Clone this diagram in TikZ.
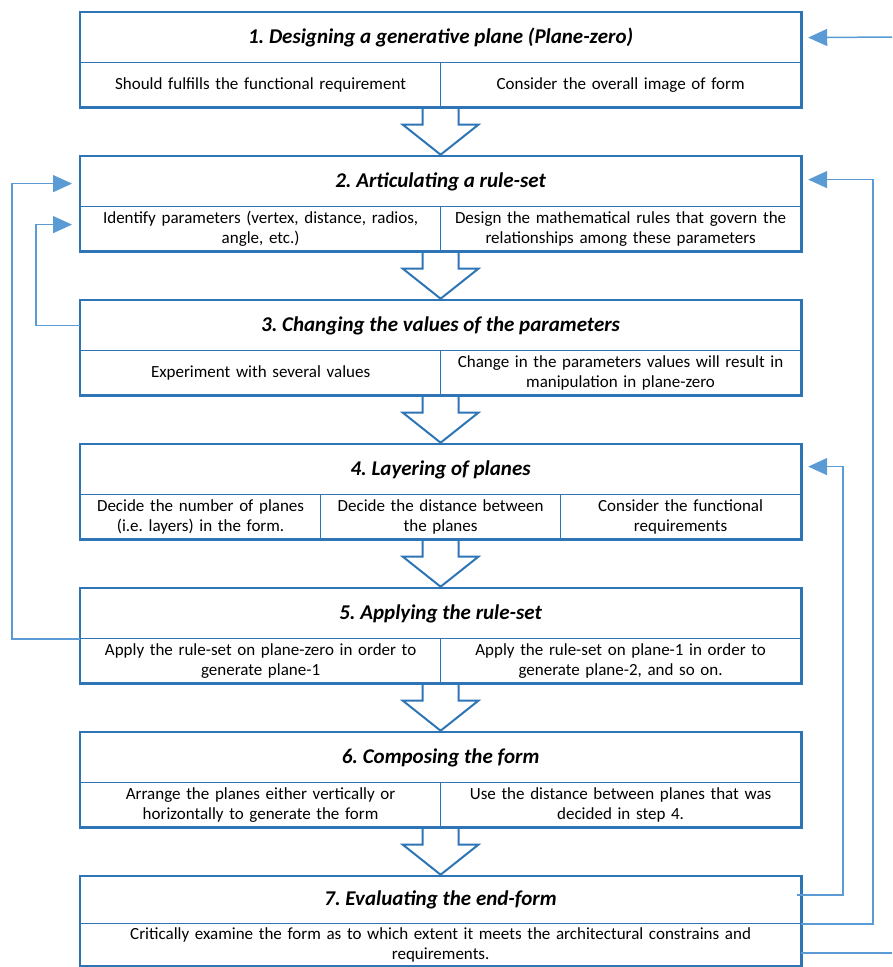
\documentclass[tikz,border=0pt]{standalone}
\usepackage{fontspec}
\setmainfont{Carlito}
\frenchspacing
\usetikzlibrary{arrows.meta,calc,fit,backgrounds}
\definecolor{boxblue}{HTML}{2E75B6}
\definecolor{lineblue}{HTML}{5B9BD5}
\newcommand{\bigdownarrow}[2]{%
  \draw[blk] ($(#1.south)+(-18,0)$) -- ++(0,16) -- ++(-20,0) -- (#2.north)
    -- ($(#1.south)+(38,16)$) -- ++(-20,0) -- ++(0,-16);}
\begin{document}
\begin{tikzpicture}[x=1pt,y=-1pt,
  hdr/.style={draw=boxblue, line width=1.2pt, minimum width=720pt, minimum height=50pt,
    inner sep=0pt, font=\fontsize{21}{24}\selectfont\bfseries\itshape, anchor=north west},
  cellbase/.style={draw=boxblue, line width=1.2pt, minimum height=44pt, inner ysep=0pt,
    inner xsep=4pt, align=center, font=\fontsize{17}{20}\selectfont, anchor=north west},
  cellhalf/.style={cellbase, text width=352pt},
  cellthird/.style={cellbase, text width=232pt},
  cellfull/.style={cellbase, text width=712pt, minimum height=42pt},
  outerbox/.style={draw=boxblue, line width=2.6pt, inner sep=0pt},
  blk/.style={draw=boxblue, line width=2pt, fill=white, line join=miter},
  conn/.style={draw=lineblue, line width=1.5pt, -{Triangle[length=19pt,width=17pt]}},
  plain/.style={draw=lineblue, line width=1.5pt}
]
\useasboundingbox (0,0) rectangle (892,967);

% Box 1
\node[hdr] (h1) at (80,12) {1. Designing a generative plane (Plane-zero)};
\node[cellhalf] (c1a) at (80,62) {Should fulfills the functional requirement};
\node[cellhalf] (c1b) at (440,62) {Consider the overall image of form};
\node[outerbox, fit=(h1)(c1a)(c1b)] (box1) {};

% Box 2
\node[hdr] (h2) at (80,156) {2. Articulating a rule-set};
\node[cellhalf] (c2a) at (80,206) {Identify parameters (vertex, distance, radios,\\ angle, etc.)};
\node[cellhalf] (c2b) at (440,206) {Design the mathematical rules that govern the\\ relationships among these parameters};
\node[outerbox, fit=(h2)(c2a)(c2b)] (box2) {};

% Box 3
\node[hdr] (h3) at (80,300) {3. Changing the values of the parameters};
\node[cellhalf] (c3a) at (80,350) {Experiment with several values};
\node[cellhalf] (c3b) at (440,350) {Change in the parameters values will result in\\ manipulation in plane-zero};
\node[outerbox, fit=(h3)(c3a)(c3b)] (box3) {};

% Box 4
\node[hdr] (h4) at (80,444) {4. Layering of planes};
\node[cellthird] (c4a) at (80,494) {Decide the number of planes\\ (i.e. layers) in the form.};
\node[cellthird] (c4b) at (320,494) {Decide the distance between\\ the planes};
\node[cellthird] (c4c) at (560,494) {Consider the functional\\ requirements};
\node[outerbox, fit=(h4)(c4a)(c4c)] (box4) {};

% Box 5
\node[hdr] (h5) at (80,588) {5. Applying the rule-set};
\node[cellhalf] (c5a) at (80,638) {Apply the rule-set on plane-zero in order to\\ generate plane-1};
\node[cellhalf] (c5b) at (440,638) {Apply the rule-set on plane-1 in order to\\ generate plane-2, and so on.};
\node[outerbox, fit=(h5)(c5a)(c5b)] (box5) {};

% Box 6
\node[hdr] (h6) at (80,732) {6. Composing the form};
\node[cellhalf] (c6a) at (80,782) {Arrange the planes either vertically or\\ horizontally to generate the form};
\node[cellhalf] (c6b) at (440,782) {Use the distance between planes that was\\ decided in step 4.};
\node[outerbox, fit=(h6)(c6a)(c6b)] (box6) {};

% Box 7
\node[hdr, minimum height=47pt] (h7) at (80,876) {7. Evaluating the end-form};
\node[cellfull] (c7) at (80,923) {Critically examine the form as to which extent it meets the architectural constrains and\\ requirements.};
\node[outerbox, fit=(h7)(c7)] (box7) {};

% Block arrows
\begin{scope}[on background layer]
\bigdownarrow{box1}{box2}
\bigdownarrow{box2}{box3}
\bigdownarrow{box3}{box4}
\bigdownarrow{box4}{box5}
\bigdownarrow{box5}{box6}
\bigdownarrow{box6}{box7}
\end{scope}

% Feedback connectors
\coordinate (in1) at (892,37);
\coordinate (out7) at (892,953);
\draw[conn] (in1) -- ($(h1.east)+(7,0)$);
\draw[conn] ($(h7.east)+(-4,-5)$) -- ++(46,0) |- ($(h4.east)+(7,-3)$);
\draw[conn] (h7.south east) -- ++(72,0) |- ($(h2.east)+(7,-2)$);
\draw[plain] (c7.east |- out7) -- (out7);
\draw[conn] (h5.south west) -- ++(-68,0) |- ($(h2.west)+(-8,2)$);
\draw[conn] (h3.west) -- ++(-44,0) |- ($(c2a.west)+(-8,-4)$);
\end{tikzpicture}
\end{document}
